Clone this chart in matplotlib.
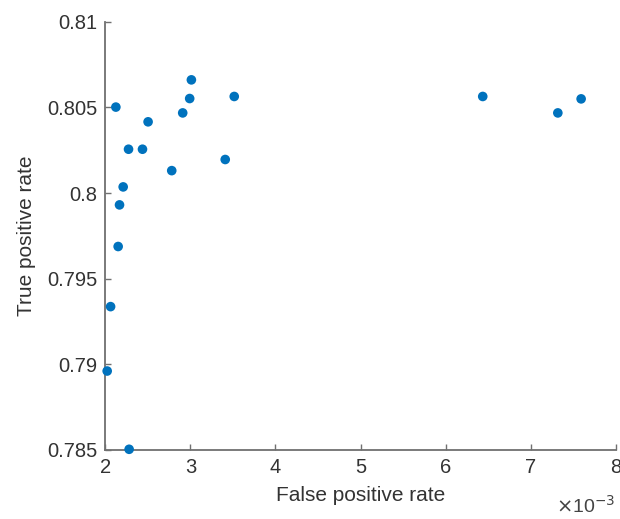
import matplotlib
matplotlib.use("Agg")
import matplotlib.pyplot as plt

fpr_e3 = [2.123, 3.011, 2.991, 3.515, 2.909, 2.502, 2.272, 2.436, 3.409, 2.780,
          2.209, 2.166, 2.150, 2.061, 2.021, 2.279, 6.437, 7.594, 7.320]
tpr = [0.80502, 0.80661, 0.80552, 0.80564, 0.80468, 0.80416, 0.80256, 0.80256,
       0.80196, 0.80131, 0.80036, 0.79931, 0.79688, 0.79337, 0.78961, 0.78504,
       0.80564, 0.80550, 0.80468]
xticks = [2, 3, 4, 5, 6, 7, 8]
yticks = [0.785, 0.79, 0.795, 0.8, 0.805, 0.81]
ytick_labels = ["0.785", "0.79", "0.795", "0.8", "0.805", "0.81"]

plt.rcParams['font.family'] = ['Liberation Sans', 'DejaVu Sans']

fig = plt.figure(figsize=(6.2, 5.19), dpi=100)
ax = fig.add_axes([0.170, 0.133, 0.823, 0.825])

ax.scatter(fpr_e3, tpr, s=48, color='#0072BD', edgecolors='none', clip_on=False, zorder=3)

ax.set_xlim(2, 8)
ax.set_ylim(0.785, 0.81)
ax.set_xticks(xticks)
ax.set_xticklabels([str(t) for t in xticks])
ax.set_yticks(yticks)
ax.set_yticklabels(ytick_labels)

axis_color = '#707070'
for side in ['top', 'right']:
    ax.spines[side].set_visible(False)
for side in ['left', 'bottom']:
    ax.spines[side].set_color(axis_color)
    ax.spines[side].set_linewidth(1.3)
ax.tick_params(direction='in', length=4, width=1.0, color=axis_color,
               labelsize=14.5, labelcolor='#333333', pad=6)

ax.set_xlabel('False positive rate', fontsize=15, color='#333333', labelpad=6)
ax.set_ylabel('True positive rate', fontsize=15, color='#333333', labelpad=8)

ax.text(1.0, -0.13, r'$\times$10$^{-3}$', transform=ax.transAxes, ha='right', va='center',
        fontsize=14, color='#444444')

fig.savefig('out.png', dpi=100, facecolor='white')
